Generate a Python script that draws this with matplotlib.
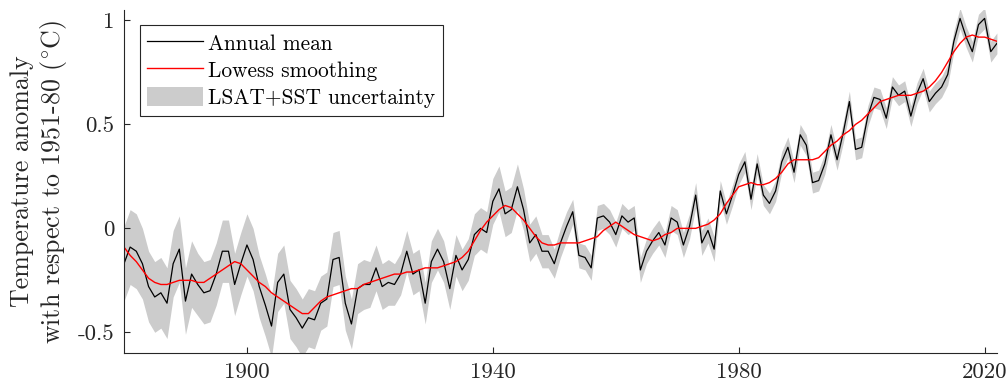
import numpy as np
import matplotlib
matplotlib.use("Agg")
from matplotlib import pyplot as plt
from matplotlib.lines import Line2D
from matplotlib.patches import Patch

plt.rcParams["font.family"] = "serif"
plt.rcParams["font.serif"] = ["cmr10"]
plt.rcParams["mathtext.fontset"] = "cm"
plt.rcParams["axes.unicode_minus"] = False

# GISTEMP annual means, 1880-2022, anomaly vs 1951-80 (deg C)
years = np.arange(1880, 2023)
annual_mean = [
    -0.17, -0.09, -0.11, -0.17, -0.28, -0.33, -0.31, -0.36, -0.17, -0.10,
    -0.35, -0.22, -0.27, -0.31, -0.30, -0.22, -0.11, -0.11, -0.27, -0.17,
    -0.08, -0.15, -0.28, -0.37, -0.47, -0.26, -0.22, -0.39, -0.43, -0.48,
    -0.43, -0.44, -0.36, -0.34, -0.15, -0.14, -0.36, -0.46, -0.29, -0.27,
    -0.27, -0.19, -0.28, -0.26, -0.27, -0.22, -0.11, -0.22, -0.20, -0.36,
    -0.16, -0.10, -0.16, -0.29, -0.13, -0.20, -0.15, -0.03, -0.00, -0.02,
    0.13, 0.19, 0.07, 0.09, 0.20, 0.09, -0.07, -0.03, -0.11, -0.11,
    -0.17, -0.07, 0.01, 0.08, -0.13, -0.14, -0.19, 0.05, 0.06, 0.03,
    -0.03, 0.06, 0.03, 0.05, -0.20, -0.11, -0.06, -0.02, -0.08, 0.05,
    0.03, -0.08, 0.01, 0.16, -0.07, -0.01, -0.10, 0.18, 0.07, 0.16,
    0.26, 0.32, 0.14, 0.31, 0.16, 0.12, 0.18, 0.32, 0.39, 0.27,
    0.45, 0.40, 0.22, 0.23, 0.31, 0.45, 0.33, 0.46, 0.61, 0.38,
    0.39, 0.54, 0.63, 0.62, 0.53, 0.68, 0.64, 0.66, 0.54, 0.65,
    0.72, 0.61, 0.65, 0.68, 0.74, 0.90, 1.01, 0.92, 0.85, 0.98,
    1.01, 0.85, 0.89,
]
lowess = [
    -0.09, -0.13, -0.16, -0.20, -0.24, -0.26, -0.27, -0.27, -0.26, -0.25,
    -0.25, -0.25, -0.26, -0.26, -0.24, -0.22, -0.20, -0.18, -0.16, -0.17,
    -0.20, -0.23, -0.26, -0.28, -0.31, -0.33, -0.35, -0.37, -0.39, -0.41,
    -0.41, -0.38, -0.35, -0.33, -0.32, -0.31, -0.30, -0.29, -0.29, -0.27,
    -0.26, -0.25, -0.24, -0.23, -0.22, -0.22, -0.21, -0.21, -0.20, -0.19,
    -0.19, -0.19, -0.18, -0.17, -0.16, -0.14, -0.11, -0.06, -0.01, 0.03,
    0.06, 0.09, 0.11, 0.10, 0.07, 0.04, 0.00, -0.04, -0.07, -0.08,
    -0.08, -0.07, -0.07, -0.07, -0.07, -0.06, -0.05, -0.04, -0.01, 0.01,
    0.03, 0.01, -0.01, -0.03, -0.04, -0.05, -0.06, -0.05, -0.03, -0.02,
    -0.00, 0.00, 0.00, 0.00, 0.01, 0.02, 0.04, 0.07, 0.12, 0.16,
    0.20, 0.21, 0.22, 0.21, 0.21, 0.22, 0.24, 0.27, 0.31, 0.33,
    0.33, 0.33, 0.33, 0.34, 0.37, 0.40, 0.42, 0.45, 0.47, 0.50,
    0.52, 0.55, 0.58, 0.61, 0.62, 0.63, 0.64, 0.64, 0.64, 0.65,
    0.66, 0.68, 0.71, 0.75, 0.80, 0.85, 0.89, 0.92, 0.93, 0.92,
    0.92, 0.91, 0.90,
]
# half-width of the LSAT+SST uncertainty band
uncertainty = [
    0.18, 0.18, 0.18, 0.17, 0.17, 0.17, 0.17, 0.17, 0.16, 0.16,
    0.16, 0.16, 0.15, 0.15, 0.15, 0.15, 0.15, 0.15, 0.15, 0.15,
    0.15, 0.15, 0.15, 0.15, 0.15, 0.14, 0.14, 0.14, 0.14, 0.14,
    0.14, 0.14, 0.13, 0.13, 0.13, 0.13, 0.13, 0.12, 0.12, 0.12,
    0.11, 0.11, 0.11, 0.11, 0.10, 0.10, 0.10, 0.10, 0.10, 0.10,
    0.10, 0.10, 0.10, 0.10, 0.10, 0.10, 0.10, 0.10, 0.10, 0.10,
    0.11, 0.11, 0.11, 0.11, 0.11, 0.10, 0.09, 0.09, 0.08, 0.08,
    0.07, 0.07, 0.07, 0.06, 0.06, 0.06, 0.06, 0.06, 0.06, 0.06,
    0.06, 0.06, 0.06, 0.06, 0.06, 0.06, 0.06, 0.06, 0.06, 0.06,
    0.06, 0.06, 0.06, 0.06, 0.06, 0.06, 0.06, 0.05, 0.05, 0.05,
    0.05, 0.05, 0.05, 0.05, 0.05, 0.05, 0.05, 0.05, 0.05, 0.05,
    0.05, 0.05, 0.05, 0.05, 0.05, 0.05, 0.05, 0.05, 0.05, 0.05,
    0.05, 0.05, 0.05, 0.05, 0.05, 0.05, 0.05, 0.05, 0.05, 0.05,
    0.05, 0.05, 0.05, 0.05, 0.05, 0.05, 0.05, 0.05, 0.05, 0.05,
    0.05, 0.05, 0.05,
]
x_ticks = [1900, 1940, 1980, 2020]
y_ticks = [-0.5, 0, 0.5, 1]
y_tick_labels = ["-0.5", "0", "0.5", "1"]

mean = np.array(annual_mean)
unc = np.array(uncertainty)

fig = plt.figure(figsize=(10.08, 3.88), dpi=100)
ax = fig.add_axes([0.123, 0.09, 0.866, 0.884])

band_color = "#cccccc"
ax.fill_between(years, mean - unc, mean + unc, color=band_color, lw=0)
ax.plot(years, mean, color="black", lw=0.9)
ax.plot(years, lowess, color="red", lw=1.0)

ax.set_xlim(1880, 2022)
ax.set_ylim(-0.6, 1.05)
ax.set_xticks(x_ticks)
ax.set_xticklabels([str(t) for t in x_ticks])
ax.set_yticks(y_ticks)
ax.set_yticklabels(y_tick_labels)

for side in ["top", "right"]:
    ax.spines[side].set_visible(False)
for side in ["left", "bottom"]:
    ax.spines[side].set_color("#262626")
    ax.spines[side].set_linewidth(0.8)
ax.tick_params(direction="in", length=4, width=0.8, color="#262626",
               labelsize=16.5, labelcolor="#262626", pad=7)

ax.set_ylabel("Temperature anomaly\nwith respect to 1951-80 ($^{\\circ}$C)",
              fontsize=18.7, color="#262626", linespacing=1.2, labelpad=6)

handles = [
    Line2D([], [], color="black", lw=0.9),
    Line2D([], [], color="red", lw=1.0),
    Patch(facecolor=band_color, edgecolor="none"),
]
labels = ["Annual mean", "Lowess smoothing", "LSAT+SST uncertainty"]
leg = ax.legend(handles, labels, loc="upper left", bbox_to_anchor=(0.018, 0.956),
                fontsize=15.4, fancybox=False, framealpha=1, handlelength=2.6,
                handleheight=1.0, handletextpad=0.25, borderpad=0.35,
                labelspacing=0.3, borderaxespad=0)
leg.get_frame().set_edgecolor("#262626")
leg.get_frame().set_linewidth(0.8)

fig.savefig("out.png", dpi=100)
